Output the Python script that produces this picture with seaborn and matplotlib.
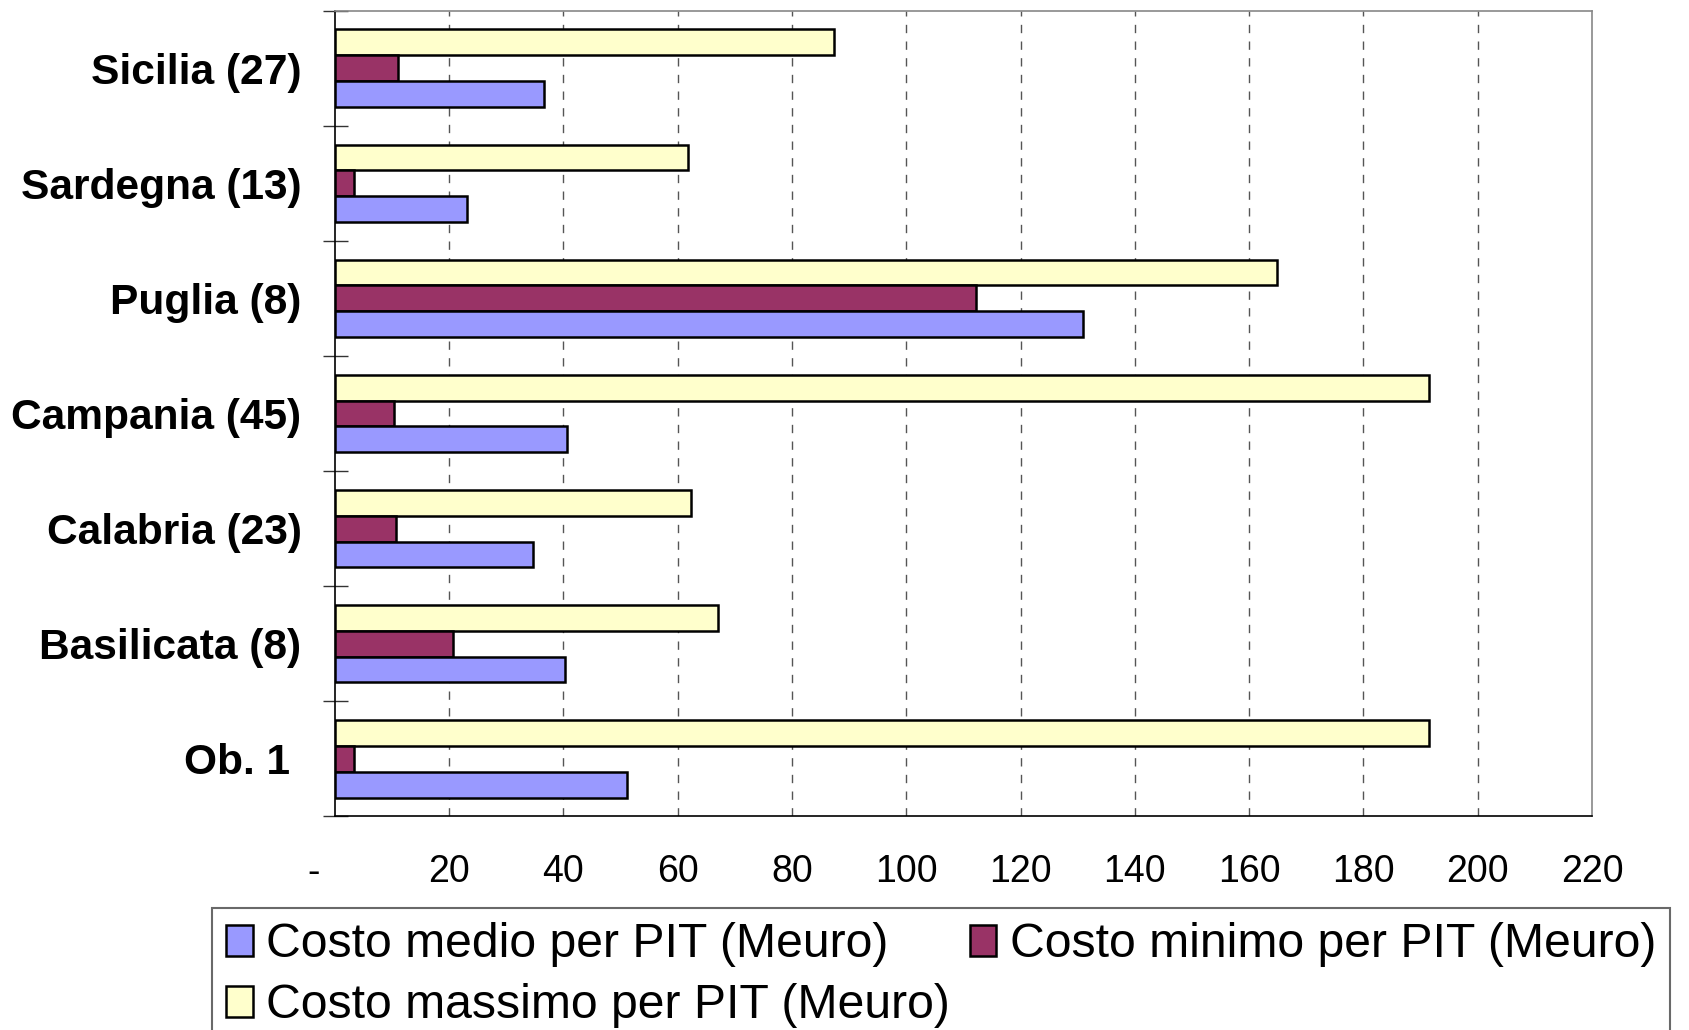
import matplotlib
matplotlib.use("Agg")
import matplotlib.pyplot as plt
import seaborn as sns
import pandas as pd
from matplotlib.patches import Patch
from matplotlib.ticker import FixedLocator

# values (Meuro)
regioni = ["Sicilia (27)", "Sardegna (13)", "Puglia (8)", "Campania (45)",
           "Calabria (23)", "Basilicata (8)", "Ob. 1 "]
costo_medio = [36.6, 23.2, 131.0, 40.7, 34.7, 40.2, 51.1]
costo_minimo = [11.1, 3.4, 112.2, 10.4, 10.7, 20.7, 3.4]
costo_massimo = [87.3, 61.8, 164.9, 191.5, 62.4, 67.1, 191.5]

serie = ["Costo medio per PIT (Meuro)", "Costo minimo per PIT (Meuro)",
         "Costo massimo per PIT (Meuro)"]
colori = {serie[0]: "#9999FF", serie[1]: "#993366", serie[2]: "#FFFFCC"}
x_ticks = list(range(0, 221, 20))

rows = []
for nome, valori in zip(serie, [costo_medio, costo_minimo, costo_massimo]):
    for reg, v in zip(regioni, valori):
        rows.append({"regione": reg, "serie": nome, "valore": v})
df = pd.DataFrame(rows)

sns.set_style("white")
plt.rcParams["font.family"] = ["Liberation Sans", "DejaVu Sans"]
plt.rcParams["text.color"] = "black"
plt.rcParams["xtick.color"] = "black"
plt.rcParams["ytick.color"] = "black"
plt.rcParams["xtick.labelcolor"] = "black"
plt.rcParams["ytick.labelcolor"] = "black"

fig = plt.figure(figsize=(16.89, 10.30), dpi=100)
ax = fig.add_axes([0.1983, 0.2073, 0.7443, 0.7825])

# top to bottom inside each group: massimo, minimo, medio
sns.barplot(data=df, x="valore", y="regione", hue="serie",
            hue_order=[serie[2], serie[1], serie[0]], palette=colori,
            order=regioni, orient="h", width=0.672, errorbar=None,
            saturation=1, edgecolor="black", linewidth=1.8, legend=False,
            ax=ax, zorder=3)

ax.set_xlim(0, 220)
ax.set_ylim(len(regioni) - 0.5, -0.5)
ax.set_xlabel("")
ax.set_ylabel("")

# x axis
ax.set_xticks(x_ticks)
ax.set_xticklabels([""] + [str(t) for t in x_ticks[1:]], fontsize=27)
ax.annotate("-", xy=(0, 0), xycoords=("data", "axes fraction"),
            xytext=(-15.5, -28), textcoords="offset points",
            ha="center", va="top", fontsize=27, color="black")
ax.tick_params(axis="x", direction="inout", length=14, width=1, pad=20)
for t in x_ticks[1:-1]:
    ax.axvline(t, color="#555555", lw=1, ls=(0, (6, 6)), zorder=1)

# y axis: labels at categories, ticks at group boundaries
ax.tick_params(axis="y", which="major", length=0, pad=24)
for lab in ax.get_yticklabels():
    lab.set_fontsize(30.6)
    lab.set_fontweight("bold")
ax.yaxis.set_minor_locator(FixedLocator([i - 0.5 for i in range(len(regioni) + 1)]))
ax.tick_params(axis="y", which="minor", direction="inout", length=18,
               width=1, color="#333333", left=True)

for side in ["top", "right"]:
    ax.spines[side].set_color("#888888")
    ax.spines[side].set_linewidth(1.2)
for side in ["left", "bottom"]:
    ax.spines[side].set_color("black")
    ax.spines[side].set_linewidth(1.2)

handles = [Patch(facecolor=colori[s], edgecolor="black", linewidth=1.8) for s in serie]
# column-major fill: reorder so rows read medio, minimo / massimo
order = [0, 2, 1]
leg = fig.legend([handles[i] for i in order], [serie[i] for i in order],
                 loc="upper left", bbox_to_anchor=(212 / 1689, 1 - 908 / 1030),
                 ncol=2, fontsize=34.7, frameon=True, fancybox=False,
                 borderaxespad=0, borderpad=0.3, handlelength=0.55,
                 handleheight=0.6, handletextpad=0.28, columnspacing=0.4,
                 labelspacing=0.33)
leg.get_frame().set_edgecolor("#444444")
leg.get_frame().set_linewidth(1.5)

fig.savefig("out.png", dpi=100)
